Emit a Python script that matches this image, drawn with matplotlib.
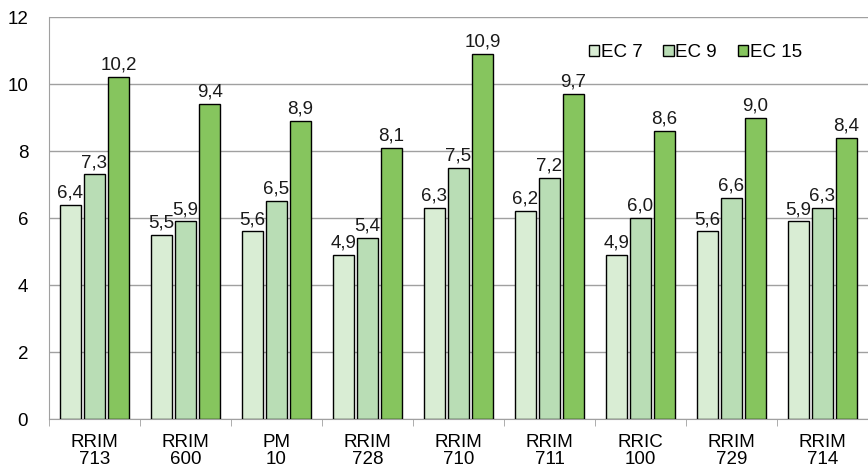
import matplotlib.pyplot as plt
import numpy as np

plt.rcParams['font.family'] = ['Liberation Sans', 'DejaVu Sans']

clones = ['RRIM\n713', 'RRIM\n600', 'PM\n10', 'RRIM\n728', 'RRIM\n710',
          'RRIM\n711', 'RRIC\n100', 'RRIM\n729', 'RRIM\n714']
ec7 = [6.4, 5.5, 5.6, 4.9, 6.3, 6.2, 4.9, 5.6, 5.9]
ec9 = [7.3, 5.9, 6.5, 5.4, 7.5, 7.2, 6.0, 6.6, 6.3]
ec15 = [10.2, 9.4, 8.9, 8.1, 10.9, 9.7, 8.6, 9.0, 8.4]

series = [('EC 7', ec7, '#d9edd4'), ('EC 9', ec9, '#b9ddb5'), ('EC 15', ec15, '#86c55e')]

fig = plt.figure(figsize=(8.68, 4.69), dpi=100)
ax = fig.add_axes([49 / 868, 50 / 469, 819 / 868, 402 / 469])

x = np.arange(len(clones))
w = 0.235
gap = 0.03
for i, (name, vals, col) in enumerate(series):
    pos = x + (i - 1) * (w + gap)
    bars = ax.bar(pos, vals, w, color=col, edgecolor='black', linewidth=1, label=name, zorder=3)
    for b, v in zip(bars, vals):
        ax.text(b.get_x() + b.get_width() / 2, v + 0.1, f'{v:.1f}'.replace('.', ','),
                ha='center', va='bottom', fontsize=13.5, color='#1a1a1a')

ax.set_xlim(-0.5, len(clones) - 0.5)
ax.set_ylim(0, 12)
ax.set_yticks(range(0, 13, 2))
ax.grid(axis='y', color='#a0a0a0', linewidth=1, zorder=0)
ax.set_xticks(x)
ax.set_xticklabels(clones, fontsize=13.5, linespacing=1.0)
ax.set_xticks(np.arange(-0.5, len(clones), 1), minor=True)
ax.tick_params(axis='x', which='major', length=0, pad=11)
ax.tick_params(axis='x', which='minor', length=5, color='#a0a0a0')
ax.tick_params(axis='y', length=0, labelsize=13.5, pad=15)
for s in ['top', 'right']:
    ax.spines[s].set_visible(False)
for s in ['left', 'bottom']:
    ax.spines[s].set_color('#a0a0a0')

ax.legend(loc='upper right', bbox_to_anchor=(0.94, 0.975), ncol=3, frameon=False,
          fontsize=13.5, handlelength=0.55, handleheight=0.55, handletextpad=0.1,
          columnspacing=1.1)

fig.savefig('out.png', dpi=100)
